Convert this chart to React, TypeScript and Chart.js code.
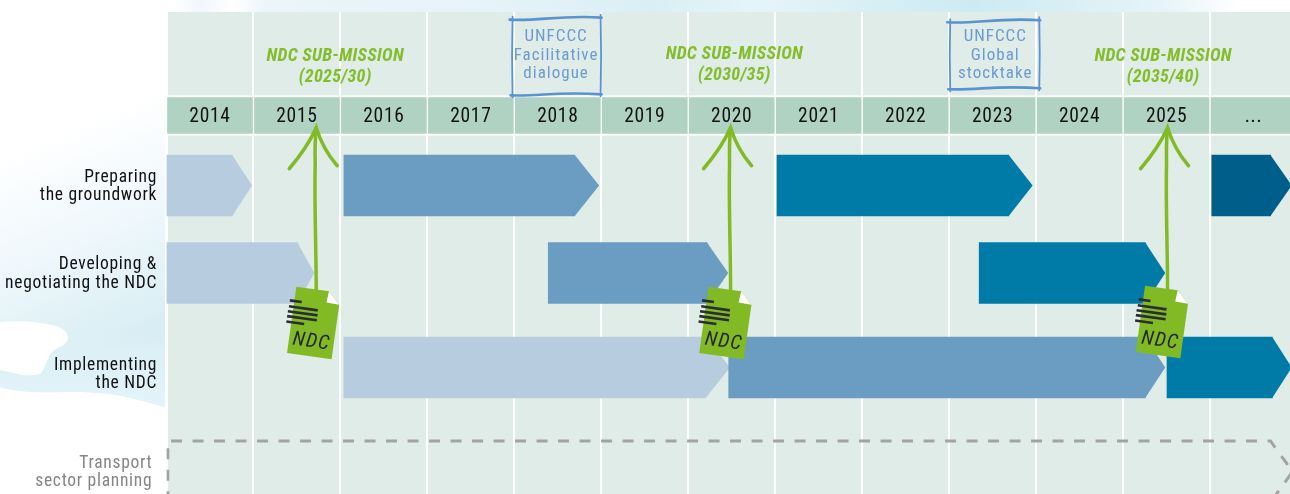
import React, { useEffect, useRef } from "react";
import { Chart, registerables } from "chart.js";

Chart.register(...registerables);

const FONT = 'Roboto, sans-serif';

const yearLabels = ["2014","2015","2016","2017","2018","2019","2020","2021","2022","2023","2024","2025","..."];
const yearStarts = [2014,2015,2016,2017,2018,2019,2020,2021,2022,2023,2024,2025,2026];
const gridStart = 2014;
const gridEnd = 2027;

// row positions on the y scale
const rowPreparing = 0;
const rowDeveloping = 1;
const rowImplementing = 2.08;
const rowYears = -0.8;
const labelPositions = [0.015, 1.015, 2.16, 3.285];
const rowLabels = [
  ["Preparing", "the groundwork"],
  ["Developing &", "negotiating the NDC"],
  ["Implementing", "the NDC"],
  ["Transport ", "sector planning "],
];

// [start, shoulder, tip, row]
const firstCycle = [
  [2014, 2014.755, 2014.985, rowPreparing],
  [2014, 2015.505, 2015.7, rowDeveloping],
  [2016.04, 2020.2, 2020.48, rowImplementing],
];
const secondCycle = [
  [2016.04, 2018.695, 2018.975, rowPreparing],
  [2018.39, 2020.215, 2020.46, rowDeveloping],
  [2020.465, 2025.255, 2025.485, rowImplementing],
];
const thirdCycle = [
  [2021.02, 2023.685, 2023.96, rowPreparing],
  [2023.345, 2025.255, 2025.485, rowDeveloping],
  [2025.505, 2026.715, 2026.94, rowImplementing],
];
const fourthCycle = [[2026.02, 2026.695, 2026.94, rowPreparing]];

const transportX = [2014.015, 2014.015, 2026.695, 2026.95, 2026.695];
const transportY = [3.62, 2.92, 2.92, 3.27, 3.62];

const submissionLabels = [
  ["NDC SUB-MISSION", "(2025/30)"],
  ["NDC SUB-MISSION", "(2030/35)"],
  ["NDC SUB-MISSION", "(2035/40)"],
];
const submissionLabelX = [2015.94, 2020.53, 2025.46];
const submissionLabelY = [-1.474, -1.497, -1.474];
const arrowX = [2015.71, 2020.475, 2025.5];
const documentX = [2015.69, 2020.43, 2025.45];

const stocktakeLabels = [
  ["UNFCCC", "Facilitative", "dialogue"],
  ["UNFCCC", "Global", "stocktake"],
];
const stocktakeX = [2018.48, 2023.53];

function bars(list: number[][]) {
  return list.map((b) => ({ x: [b[0], b[1]], y: b[3] }));
}

function wavyBox(ctx: CanvasRenderingContext2D, l: number, t: number, r: number, b: number) {
  ctx.beginPath();
  ctx.moveTo(l - 2, t + 3);
  ctx.bezierCurveTo(l + 25, t + 5, r - 40, t - 2, r + 1, t + 1);
  ctx.stroke();
  ctx.beginPath();
  ctx.moveTo(l - 1, b);
  ctx.bezierCurveTo(l + 30, b + 1, r - 45, b - 4, r + 1, b - 1);
  ctx.stroke();
  ctx.lineWidth = 1.8;
  ctx.beginPath();
  ctx.moveTo(l + 1, t);
  ctx.quadraticCurveTo(l, (t + b) / 2, l + 1, b + 2);
  ctx.stroke();
  ctx.beginPath();
  ctx.moveTo(r, t - 2);
  ctx.quadraticCurveTo(r + 1, (t + b) / 2, r, b + 1);
  ctx.stroke();
}

const washPlugin = {
  id: "wash",
  beforeDraw(chart: any) {
    const { ctx, chartArea: a } = chart;
    ctx.letterSpacing = "0.7px";
    ctx.save();
    // top strip
    const top = ctx.createLinearGradient(170, 0, 1240, 0);
    top.addColorStop(0, "#ffffff");
    top.addColorStop(0.03, "#f1f7fc");
    top.addColorStop(0.06, "#ffffff");
    top.addColorStop(0.09, "#ebf5fa");
    top.addColorStop(0.3, "#e6f3f8");
    top.addColorStop(0.45, "#d9eff5");
    top.addColorStop(0.55, "#e5f4f8");
    top.addColorStop(0.75, "#cdeaf2");
    top.addColorStop(0.93, "#e6f4f8");
    top.addColorStop(1, "#ffffff");
    ctx.fillStyle = top;
    ctx.fillRect(170, 0, 1070, 12);
    // left wash
    const left = ctx.createLinearGradient(60, 130, 150, 340);
    left.addColorStop(0, "#ffffff");
    left.addColorStop(0.5, "#eef7fb");
    left.addColorStop(1, "#d6edf3");
    ctx.fillStyle = left;
    ctx.beginPath();
    ctx.moveTo(165, 85);
    ctx.lineTo(165, 407);
    ctx.bezierCurveTo(140, 400, 120, 394, 100, 393);
    ctx.bezierCurveTo(70, 390, 30, 396, 0, 387);
    ctx.lineTo(0, 150);
    ctx.closePath();
    ctx.fill();
    const low = ctx.createLinearGradient(0, 330, 0, 400);
    low.addColorStop(0, "rgba(220,240,246,0)");
    low.addColorStop(0.3, "#dcf0f6");
    low.addColorStop(1, "#e2f3f9");
    ctx.fillStyle = low;
    ctx.beginPath();
    ctx.moveTo(165, 330);
    ctx.lineTo(165, 407);
    ctx.bezierCurveTo(140, 400, 120, 394, 100, 393);
    ctx.bezierCurveTo(70, 390, 30, 396, 0, 387);
    ctx.lineTo(0, 330);
    ctx.closePath();
    ctx.fill();
    // white cloud
    ctx.fillStyle = "#ffffff";
    ctx.beginPath();
    ctx.moveTo(0, 322);
    ctx.bezierCurveTo(20, 320, 40, 322, 56, 326);
    ctx.bezierCurveTo(68, 330, 74, 340, 60, 347);
    ctx.bezierCurveTo(46, 352, 48, 366, 40, 374);
    ctx.bezierCurveTo(25, 378, 12, 372, 0, 370);
    ctx.closePath();
    ctx.fill();
    // plot background
    ctx.fillStyle = "#e0ece7";
    ctx.fillRect(168, a.top, a.right - 168, a.bottom - a.top);
    ctx.restore();
  },
};

const tipPlugin = {
  id: "tips",
  afterDatasetDraw(chart: any, args: any) {
    const ds = chart.data.datasets[args.index];
    if (!ds.tips) return;
    const { ctx, scales } = chart;
    const meta = args.meta;
    ctx.save();
    ctx.fillStyle = ds.backgroundColor;
    meta.data.forEach((el: any, i: number) => {
      const tip = scales.x.getPixelForValue(ds.tips[i]);
      const h = el.height / 2;
      ctx.beginPath();
      ctx.moveTo(el.x - 0.5, el.y - h);
      ctx.lineTo(el.x, el.y - h);
      ctx.lineTo(tip, el.y);
      ctx.lineTo(el.x, el.y + h);
      ctx.lineTo(el.x - 0.5, el.y + h);
      ctx.closePath();
      ctx.fill();
    });
    ctx.restore();
  },
};

const notesPlugin = {
  id: "notes",
  afterDraw(chart: any) {
    const { ctx, scales } = chart;
    const X = (v: number) => scales.x.getPixelForValue(v);
    const Y = (v: number) => scales.y.getPixelForValue(v);
    const green = "#82ba26";

    // UNFCCC boxes
    stocktakeLabels.forEach((lines, k) => {
      const cx = X(stocktakeX[k]);
      ctx.save();
      ctx.strokeStyle = "#5a93d2";
      ctx.lineWidth = 2.6;
      ctx.lineCap = "round";
      if (k === 0) wavyBox(ctx, cx - 44.5, Y(-1.93), cx + 44.5, Y(-1.03));
      else wavyBox(ctx, cx - 46, Y(-1.9), cx + 44, Y(-1.1));
      ctx.fillStyle = "#6a9bd1";
      ctx.font = `condensed 17px ${FONT}`;
      ctx.textAlign = "center";
      ctx.textBaseline = "middle";
      ctx.letterSpacing = "1px";
      lines.forEach((s, i) => ctx.fillText(s, cx, Y(-1.7 + i * 0.212)));
      ctx.restore();
    });

    // submission captions
    submissionLabels.forEach((lines, k) => {
      ctx.save();
      ctx.fillStyle = "#84bd2b";
      ctx.font = `italic condensed bold 18px ${FONT}`;
      ctx.textAlign = "center";
      ctx.textBaseline = "middle";
      ctx.letterSpacing = "0.3px";
      ctx.fillText(lines[0], X(submissionLabelX[k]), Y(submissionLabelY[k]));
      ctx.fillText(lines[1], X(submissionLabelX[k]), Y(submissionLabelY[k] + 0.24));
      ctx.restore();
    });

    // arrows
    arrowX.forEach((v) => {
      const x = X(v);
      const tipY = Y(-0.66);
      ctx.save();
      ctx.strokeStyle = green;
      ctx.lineCap = "round";
      ctx.lineWidth = 3.5;
      ctx.beginPath();
      ctx.moveTo(x + 1, Y(1.2));
      ctx.bezierCurveTo(x + 1, Y(0.7), x - 1, Y(0.2), x, Y(-0.25));
      ctx.quadraticCurveTo(x - 0.5, Y(-0.5), x + 1, tipY);
      ctx.stroke();
      ctx.lineWidth = 3.5;
      ctx.beginPath();
      ctx.moveTo(x - 26, tipY + 41);
      ctx.quadraticCurveTo(x - 8, tipY + 20, x + 1, tipY);
      ctx.quadraticCurveTo(x + 8, tipY + 22, x + 22, tipY + 38);
      ctx.stroke();
      ctx.restore();
    });

    // NDC documents
    documentX.forEach((v, k) => {
      ctx.save();
      ctx.translate(X(v), Y(1.57) - (k === 2 ? 1 : 0));
      ctx.rotate((8 * Math.PI) / 180);
      ctx.fillStyle = green;
      ctx.beginPath();
      ctx.moveTo(-22, -33.5);
      ctx.lineTo(11, -33.5);
      ctx.lineTo(23, -21.5);
      ctx.lineTo(23, 33.5);
      ctx.lineTo(-22, 33.5);
      ctx.closePath();
      ctx.fill();
      ctx.fillStyle = "#ffffff";
      ctx.beginPath();
      ctx.moveTo(11, -33.5);
      ctx.lineTo(23, -21.5);
      ctx.lineTo(10, -22);
      ctx.closePath();
      ctx.fill();
      ctx.strokeStyle = "#2a2e33";
      ctx.lineWidth = 2.6;
      [[-19, -26.5, -14.5], [-13, -26.5, 2.5], [-8, -27, 3], [-3, -27, 3], [2.5, -27, -9]].forEach(([y, a, b]) => {
        ctx.beginPath();
        ctx.moveTo(a, y);
        ctx.lineTo(b, y);
        ctx.stroke();
      });
      ctx.fillStyle = "#23272b";
      ctx.font = `italic condensed 20px ${FONT}`;
      ctx.textAlign = "center";
      ctx.textBaseline = "middle";
      ctx.letterSpacing = "1.2px";
      ctx.fillText("NDC", 0.7, 19.3);
      ctx.restore();
    });
  },
};

const App = () => {
  const ref = useRef<HTMLCanvasElement>(null);
  useEffect(() => {
    const chart = new Chart(ref.current as HTMLCanvasElement, {
      type: "bar",
      data: {
        datasets: [
          {
            type: "line",
            order: 6,
            xAxisID: "x",
            yAxisID: "y",
            indexAxis: "x",
            data: transportX.map((x, i) => ({ x, y: transportY[i] })),
            borderColor: "#a3a3a3",
            borderWidth: 3,
            borderDash: [11, 10.5],
            pointRadius: 0,
            tension: 0,
            fill: false,
          },
          {
            order: 5,
            indexAxis: "y",
            xAxisID: "x",
            yAxisID: "y",
            data: yearStarts.map((s) => ({ x: [s, s + 1], y: rowYears })),
            backgroundColor: "#b0d2c3",
            borderColor: "#ffffff",
            borderWidth: { left: 1, right: 1, top: 2, bottom: 2 },
            borderSkipped: false,
            barThickness: 40,
            grouped: false,
          },
          ...[
            { list: firstCycle, color: "#b8cce0", order: 4 },
            { list: secondCycle, color: "#6a9dc1", order: 3 },
            { list: thirdCycle, color: "#007ba7", order: 2 },
            { list: fourthCycle, color: "#005f8a", order: 1 },
          ].map((c) => ({
            order: c.order,
            indexAxis: "y",
            xAxisID: "x",
            yAxisID: "y",
            data: bars(c.list),
            tips: c.list.map((b) => b[2]),
            backgroundColor: c.color,
            borderWidth: 0,
            barThickness: 61,
            grouped: false,
          })),
        ] as any,
      },
      options: {
        responsive: false,
        animation: false,
        events: [],
        layout: { padding: { top: 12, right: 0, left: 0, bottom: 0 } },
        plugins: { legend: { display: false }, tooltip: { enabled: false } },
        scales: {
          x: {
            type: "linear",
            position: "bottom",
            offset: false,
            min: gridStart,
            max: gridEnd,
            ticks: { display: false, stepSize: 1 },
            grid: { color: "#ffffff", lineWidth: 2, drawTicks: false, offset: false },
            border: { display: false },
            afterFit(scale: any) {
              scale.height = 0;
              scale.paddingLeft = scale.paddingRight = 0;
            },
          },
          xYears: {
            type: "category",
            axis: "x",
            labels: yearLabels,
            offset: true,
            position: { y: -0.91 },
            grid: { display: false, drawTicks: false },
            border: { display: false },
            afterFit(scale: any) {
              scale.height = 0;
              scale.paddingLeft = scale.paddingRight = 0;
            },
            ticks: {
              autoSkip: false,
              maxRotation: 0,
              padding: 0,
              z: 1,
              color: "#111111",
              font: { family: FONT, size: 19.5, weight: "condensed" },
            },
          },
          y: {
            type: "linear",
            reverse: true,
            offset: false,
            min: -1.983,
            max: 3.526,
            position: "left",
            afterFit(scale: any) {
              scale.width = 166.5;
              scale.paddingTop = scale.paddingBottom = 0;
            },
            afterBuildTicks(scale: any) {
              scale.ticks = labelPositions.map((value) => ({ value }));
            },
            grid: { display: false, drawTicks: false },
            border: { display: false },
            ticks: {
              autoSkip: false,
              padding: 9.5,
              font: { family: FONT, size: 17.5, lineHeight: 1.05, weight: "condensed" },
              color: (c: any) => (c.index === 3 ? "#858585" : "#111111"),
              callback: (value: number) => rowLabels[labelPositions.indexOf(value)],
            },
          },
        } as any,
      },
      plugins: [washPlugin, tipPlugin, notesPlugin],
    } as any);
    return () => chart.destroy();
  }, []);
  return (
    <div style={{ position: "absolute", left: 0, top: 0, width: 1290, height: 494, overflow: "hidden", background: "#fff" }}>
      <canvas ref={ref} width={1297} height={494} style={{ display: "block" }} />
    </div>
  );
};

export default App;
